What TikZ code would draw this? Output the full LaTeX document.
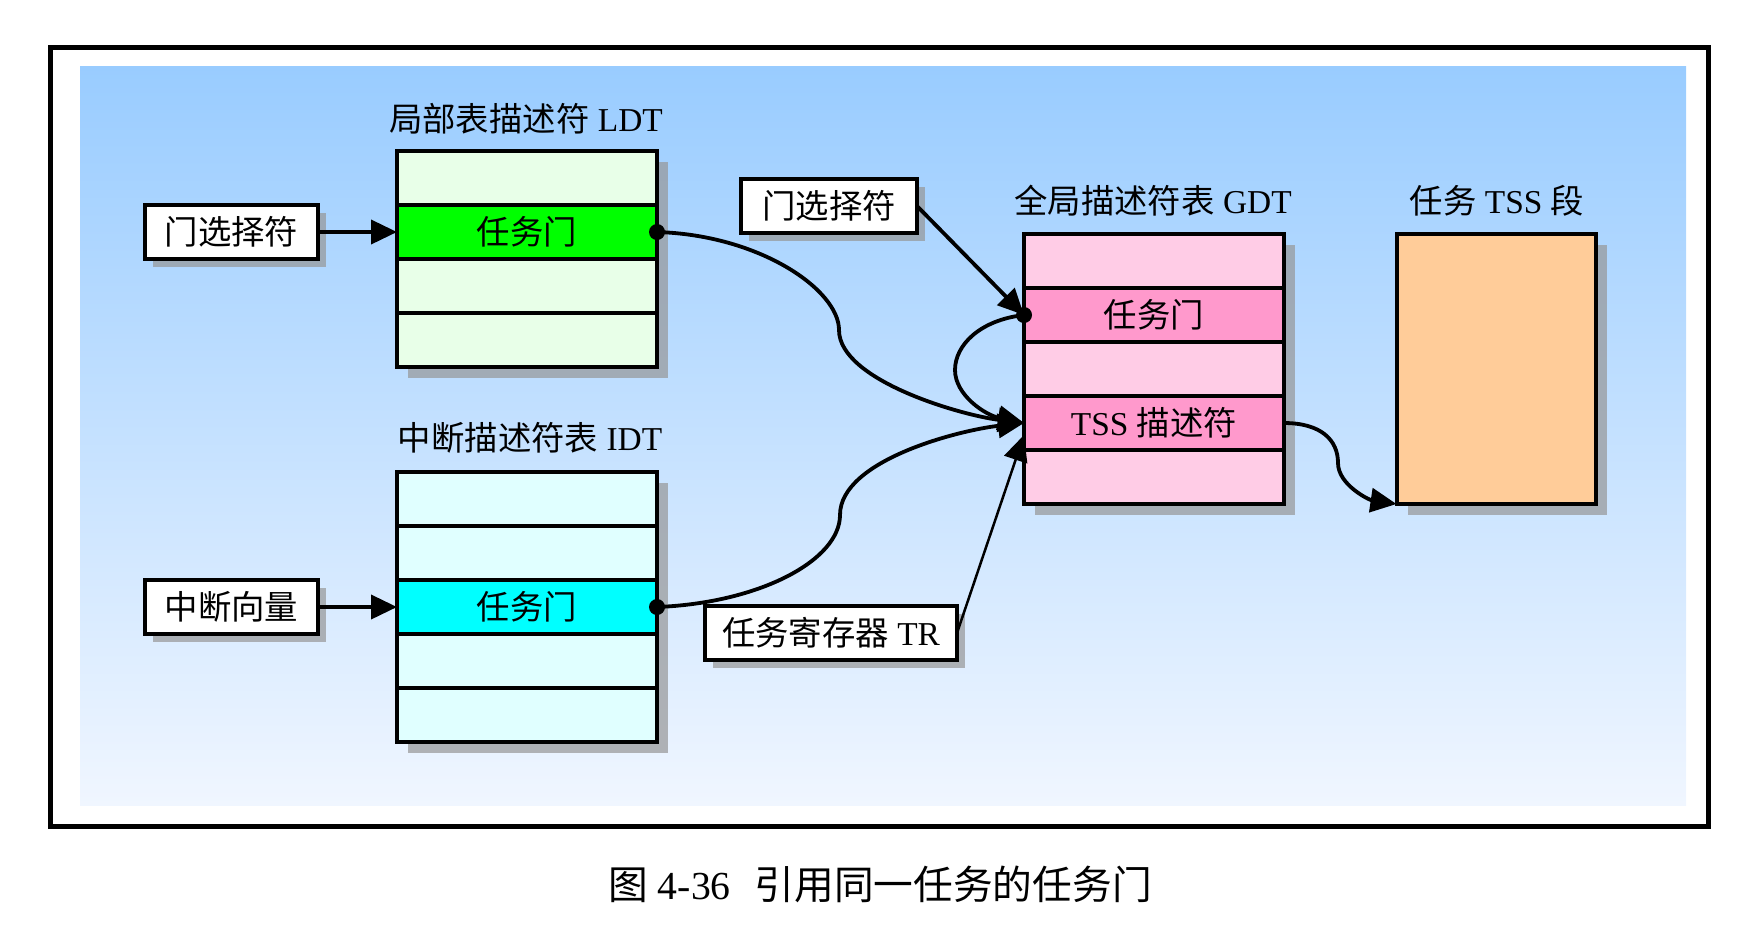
\documentclass[tikz,border=0pt]{standalone}
\usepackage{fontspec}
\setmainfont{Liberation Serif}
\newfontfamily\cjk{Noto Sans CJK SC}
\usepackage{tikz}
\usetikzlibrary{arrows.meta,positioning,shadows}
\definecolor{bgtop}{HTML}{99CCFF}
\definecolor{bgbot}{HTML}{F0F6FF}
\definecolor{ldtlight}{HTML}{E8FFE8}
\definecolor{ldtgreen}{HTML}{00FF00}
\definecolor{idtlight}{HTML}{E0FFFF}
\definecolor{idtcyan}{HTML}{00FFFF}
\definecolor{gdtlight}{HTML}{FFCCE6}
\definecolor{gdtpink}{HTML}{FF99CC}
\definecolor{tssorange}{HTML}{FFCC99}
\definecolor{shadowgray}{RGB}{150,150,150}

\begin{document}
\begin{tikzpicture}[x=0.1mm,y=-0.1mm,font=\fontsize{9.5pt}{11pt}\selectfont,
    cell/.style={draw,line width=0.4mm,minimum width=26mm,minimum height=5.4mm,
      inner sep=0pt,outer sep=0pt,
      drop shadow={shadow xshift=1.1mm,shadow yshift=-1.1mm,fill=shadowgray,opacity=0.7}},
    tagbox/.style={draw,fill=white,line width=0.4mm,minimum height=5.4mm,
      inner sep=0pt,outer sep=0pt,
      drop shadow={shadow xshift=0.8mm,shadow yshift=-0.8mm,fill=shadowgray,opacity=0.7}},
    link/.style={line width=0.38mm,-{Triangle[length=2.6mm,width=2.4mm]}}]
    \useasboundingbox (0,0) rectangle (1754,948);
    % frame and backdrop
    \draw[line width=0.5mm] (50,47) rectangle (1708,826);
    \shade[top color=bgtop,bottom color=bgbot] (80,66) rectangle (1686,805);

    % LDT
    \node (ldttitle) at (526,119) {{\cjk 局部表描述符} LDT};
    \node[cell,fill=ldtlight] (ldt1) at (527,178) {};
    \node[cell,fill=ldtgreen,below=0pt of ldt1] (ldtgate) {\cjk 任务门};
    \node[cell,fill=ldtlight,below=0pt of ldtgate] (ldt3) {};
    \node[cell,fill=ldtlight,below=0pt of ldt3] (ldt4) {};
    \node[tagbox,minimum width=17.3mm,left=7.9mm of ldtgate] (ldtsel) {\cjk 门选择符};

    % IDT
    \node (idttitle) at (530,438) {{\cjk 中断描述符表} IDT};
    \node[cell,fill=idtlight] (idt1) at (527,499) {};
    \node[cell,fill=idtlight,below=0pt of idt1] (idt2) {};
    \node[cell,fill=idtcyan,below=0pt of idt2] (idtgate) {\cjk 任务门};
    \node[cell,fill=idtlight,below=0pt of idtgate] (idt4) {};
    \node[cell,fill=idtlight,below=0pt of idt4] (idt5) {};
    \node[tagbox,minimum width=17.3mm,left=7.9mm of idtgate] (intvec) {\cjk 中断向量};

    % GDT
    \node (gdttitle) at (1153,201) {{\cjk 全局描述符表} GDT};
    \node[cell,fill=gdtlight] (gdt1) at (1154,261) {};
    \node[cell,fill=gdtpink,below=0pt of gdt1] (gdtgate) {\cjk 任务门};
    \node[cell,fill=gdtlight,below=0pt of gdtgate] (gdt3) {};
    \node[cell,fill=gdtpink,below=0pt of gdt3] (tssdesc) {TSS {\cjk 描述符}};
    \node[cell,fill=gdtlight,below=0pt of tssdesc] (gdt5) {};

    % TSS segment
    \node (tsstitle) at (1497,201) {{\cjk 任务} TSS {\cjk 段}};
    \node[cell,fill=tssorange,minimum width=19.9mm,minimum height=27mm] (tss) at (1496,369) {};

    \node[tagbox,minimum width=17.6mm] (gdtsel) at (829,206) {\cjk 门选择符};
    \node[tagbox,minimum width=25.2mm] (tr) at (831,633) {{\cjk 任务寄存器} TR};

    \draw[link] (ldtsel) -- (ldtgate);
    \draw[link] (intvec) -- (idtgate);
    \draw[link] (gdtsel.east) -- (gdtgate.west);
    \draw[link] (ldtgate.east) .. controls +(103,3) and +(0,-40) .. (839,330)
      .. controls +(0,50) and +(-64,-8) .. (tssdesc.west);
    \draw[link] (idtgate.east) .. controls +(103,-4) and +(0,45) .. (840,515)
      .. controls +(0,-55) and +(-64,7) .. (tssdesc.west);
    \draw[link] (gdtgate.west) .. controls +(-44,5) and +(0,-25) .. (955,370)
      .. controls +(0,25) and +(-39,-8) .. (tssdesc.west);
    \draw[link,line width=0.25mm] (tr.east) -- ([yshift=-1.2mm]tssdesc.west);
    \draw[link] (tssdesc.east) .. controls +(37,0) and +(0,-23) .. (1338,463)
      .. controls +(0,22) and +(-27,-4) .. (tss.south west);
    \fill (ldtgate.east) circle (0.8mm);
    \fill (idtgate.east) circle (0.8mm);
    \fill (gdtgate.west) circle (0.8mm);

    \node (caption) at (880,884) {\fontsize{11.3pt}{13pt}\selectfont
      {\cjk 图} 4-36\hspace{0.6em}{\cjk 引用同一任务的任务门}};
  \end{tikzpicture}
\end{document}
